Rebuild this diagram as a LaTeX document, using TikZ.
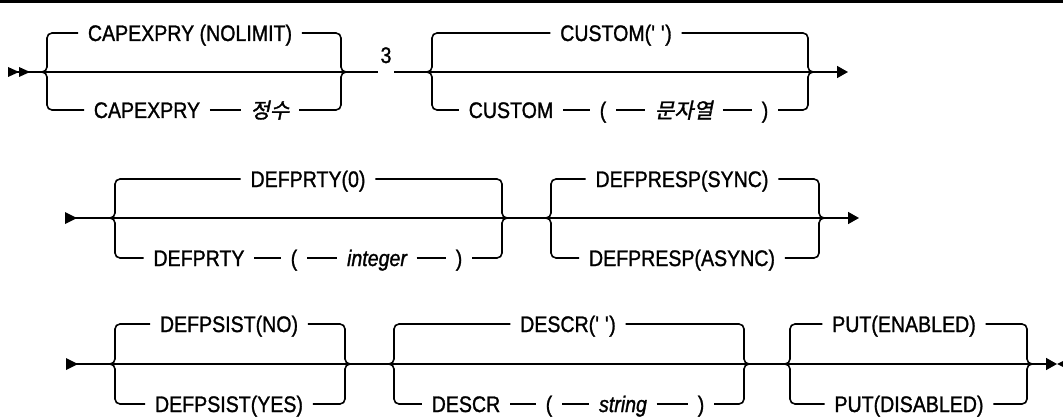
\documentclass[tikz,border=0pt]{standalone}
\usepackage{fontspec}
\setmainfont[FakeStretch=0.87,FakeBold=1.2]{Liberation Sans}
\newfontfamily\kofont[FakeSlant=0.2,FakeBold=1.5]{Noto Sans CJK KR}
\usetikzlibrary{arrows.meta}

\begin{document}
\begin{tikzpicture}[x=1pt,y=-1pt,line width=1.6pt,
    rail/.style={rounded corners=5pt},
    tok/.style={inner xsep=9pt,inner ysep=0pt,text height=16pt,text depth=0pt,font=\fontsize{22.5}{26}\selectfont},
    var/.style={tok,font=\fontsize{22.5}{26}\selectfont\itshape},
    kvar/.style={tok,font=\fontsize{21}{24}\selectfont\kofont},
    endarr/.style={-{Triangle[length=11pt,width=12pt]}}]
    \useasboundingbox (0,0) rectangle (1063,417);
    \fill (0,0) rectangle (1063,3);

    \coordinate (s1) at (8,72);
    \coordinate (aL) at (40,72);
    \coordinate (aR) at (348,72);
    \coordinate (bL) at (425,72);
    \coordinate (bR) at (815,72);
    \coordinate (t1) at (848,72);
    \node[tok] (a1) at (190,33) {CAPEXPRY (NOLIMIT)};
    \node[tok] (a2) at (147,110) {CAPEXPRY};
    \node[kvar] (a3) at (270,110) {정수};
    \node[tok,inner xsep=2pt,anchor=base] (n3) at (386,63) {3};
    \node[tok] (b1) at (616,33) {CUSTOM(\textquotesingle\ \textquotesingle)};
    \node[tok] (b2) at (511,110) {CUSTOM};
    \node[tok] (bp1) at (603,110) {(};
    \node[kvar] (b3) at (684,110) {문자열};
    \node[tok] (bp2) at (765,110) {)};
    \draw (s1) -- (aL) -- (aR);
    \fill (8,67) -- (19,72) -- (8,77) -- cycle;
    \fill (19,67) -- (30,72) -- (19,77) -- cycle;
    \draw[rail] (aL) -| (47,33) -- (a1.west);
    \draw[rail] (a1.east) -- (341,33) |- (aR);
    \draw[rail] (aL) -| (47,110) -- (a2.west);
    \draw (a2.east) -- (a3.west);
    \draw[rail] (a3.east) -- (341,110) |- (aR);
    \draw (aR) -- (aR -| n3.west);
    \draw (aR -| n3.east) -- (bL) -- (bR);
    \draw[rail] (bL) -| (432,33) -- (b1.west);
    \draw[rail] (b1.east) -- (808,33) |- (bR);
    \draw[rail] (bL) -| (432,110) -- (b2.west);
    \draw (b2.east) -- (bp1.west);
    \draw (bp1.east) -- (b3.west);
    \draw (b3.east) -- (bp2.west);
    \draw[rail] (bp2.east) -- (808,110) |- (bR);
    \draw[endarr] (bR) -- (t1);

    \coordinate (s2) at (65,218);
    \coordinate (cL) at (108,218);
    \coordinate (cR) at (509,218);
    \coordinate (dL) at (544,218);
    \coordinate (dR) at (826,218);
    \coordinate (t2) at (859,218);
    \node[tok] (c1) at (308,179) {DEFPRTY(0)};
    \node[tok] (c2) at (199,258) {DEFPRTY};
    \node[tok] (cp1) at (294,258) {(};
    \node[var] (c3) at (377,258) {integer};
    \node[tok] (cp2) at (459,258) {)};
    \node[tok] (d1) at (682,179) {DEFPRESP(SYNC)};
    \node[tok] (d2) at (682,258) {DEFPRESP(ASYNC)};
    \draw (s2) -- (cL) -- (cR) -- (dL) -- (dR);
    \fill (65,212) -- (77,218) -- (65,224) -- cycle;
    \draw[rail] (cL) -| (115,179) -- (c1.west);
    \draw[rail] (c1.east) -- (502,179) |- (cR);
    \draw[rail] (cL) -| (115,258) -- (c2.west);
    \draw (c2.east) -- (cp1.west);
    \draw (cp1.east) -- (c3.west);
    \draw (c3.east) -- (cp2.west);
    \draw[rail] (cp2.east) -- (502,258) |- (cR);
    \draw[rail] (dL) -| (551,179) -- (d1.west);
    \draw[rail] (d1.east) -- (819,179) |- (dR);
    \draw[rail] (dL) -| (551,258) -- (d2.west);
    \draw[rail] (d2.east) -- (819,258) |- (dR);
    \draw[endarr] (dR) -- (t2);

    \coordinate (s3) at (66,364);
    \coordinate (eL) at (108,364);
    \coordinate (eR) at (352,364);
    \coordinate (fL) at (387,364);
    \coordinate (fR) at (751,364);
    \coordinate (gL) at (783,364);
    \coordinate (gR) at (1034,364);
    \coordinate (t3) at (1057,364);
    \node[tok] (e1) at (229,324) {DEFPSIST(NO)};
    \node[tok] (e2) at (229,404) {DEFPSIST(YES)};
    \node[tok] (f1) at (568,324) {DESCR(\textquotesingle\ \textquotesingle)};
    \node[tok] (f2) at (466,404) {DESCR};
    \node[tok] (fp1) at (549,404) {(};
    \node[var] (f3) at (623,404) {string};
    \node[tok] (fp2) at (701,404) {)};
    \node[tok] (g1) at (904,324) {PUT(ENABLED)};
    \node[tok] (g2) at (909,404) {PUT(DISABLED)};
    \draw (s3) -- (eL) -- (eR) -- (fL) -- (fR) -- (gL) -- (gR);
    \fill (66,358) -- (78,364) -- (66,370) -- cycle;
    \draw[rail] (eL) -| (115,324) -- (e1.west);
    \draw[rail] (e1.east) -- (345,324) |- (eR);
    \draw[rail] (eL) -| (115,404) -- (e2.west);
    \draw[rail] (e2.east) -- (345,404) |- (eR);
    \draw[rail] (fL) -| (394,324) -- (f1.west);
    \draw[rail] (f1.east) -- (744,324) |- (fR);
    \draw[rail] (fL) -| (394,404) -- (f2.west);
    \draw (f2.east) -- (fp1.west);
    \draw (fp1.east) -- (f3.west);
    \draw (f3.east) -- (fp2.west);
    \draw[rail] (fp2.east) -- (744,404) |- (fR);
    \draw[rail] (gL) -| (790,324) -- (g1.west);
    \draw[rail] (g1.east) -- (1027,324) |- (gR);
    \draw[rail] (gL) -| (790,404) -- (g2.west);
    \draw[rail] (g2.east) -- (1027,404) |- (gR);
    \draw[endarr] (gR) -- (t3);
    \fill (1069,358) -- (1057,364) -- (1069,370) -- cycle;
\end{tikzpicture}
\end{document}
